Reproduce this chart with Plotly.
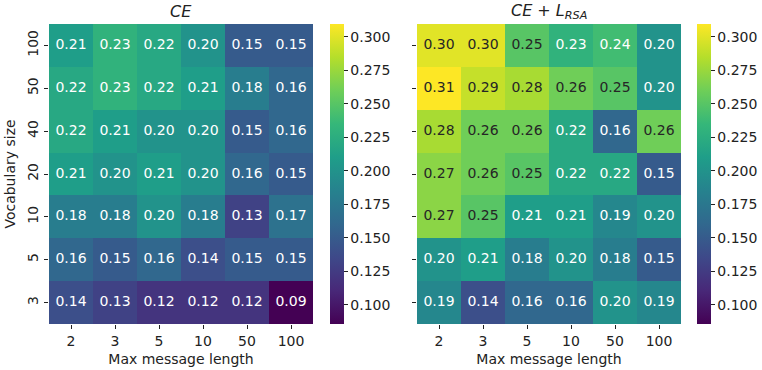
import plotly.graph_objects as go
from plotly.colors import sample_colorscale, unlabel_rgb

msg_len = ["2", "3", "5", "10", "50", "100"]
vocab = ["3", "5", "10", "20", "40", "50", "100"]  # bottom to top

# rows in vocab order (bottom -> top)
ce = [
    [0.14, 0.13, 0.12, 0.12, 0.12, 0.0858],
    [0.16, 0.15, 0.16, 0.14, 0.15, 0.15],
    [0.18, 0.18, 0.20, 0.18, 0.13, 0.17],
    [0.21, 0.20, 0.21, 0.20, 0.16, 0.15],
    [0.22, 0.21, 0.20, 0.20, 0.15, 0.16],
    [0.22, 0.23, 0.22, 0.21, 0.18, 0.16],
    [0.21, 0.23, 0.22, 0.20, 0.15, 0.15],
]
ce_rsa = [
    [0.19, 0.14, 0.16, 0.16, 0.20, 0.19],
    [0.20, 0.21, 0.18, 0.20, 0.18, 0.15],
    [0.27, 0.25, 0.21, 0.21, 0.19, 0.20],
    [0.27, 0.26, 0.25, 0.22, 0.22, 0.15],
    [0.28, 0.26, 0.26, 0.22, 0.16, 0.26],
    [0.3095, 0.29, 0.28, 0.26, 0.25, 0.20],
    [0.30, 0.30, 0.25, 0.23, 0.24, 0.20],
]
zmin, zmax = 0.0858, 0.3095

W, H = 762, 370
FONT = "DejaVu Sans"
FS = 14

def px_x(p):
    return p / W

def px_y(p):
    return 1 - p / H

def lum(v):
    t = (v - zmin) / (zmax - zmin)
    t = min(max(t, 0), 1)
    c = sample_colorscale("Viridis", [t])[0]
    r, g, b = [x / 255 for x in unlabel_rgb(c)]
    def f(u):
        return u / 12.92 if u <= 0.03928 else ((u + 0.055) / 1.055) ** 2.4
    return 0.2126 * f(r) + 0.7152 * f(g) + 0.0722 * f(b)

fig = go.Figure()

panels = [
    (ce, "x", "y", 49, 313, 330, "<i>CE</i>"),
    (ce_rsa, "x2", "y2", 417, 681, 697, "<i>CE</i> + <i>L</i><sub><i>RSA</i></sub>"),
]

for i, (data, xa, ya, x0, x1, cbx, title) in enumerate(panels):
    fig.add_trace(go.Heatmap(
        z=data, x=msg_len, y=vocab, xaxis=xa, yaxis=ya,
        colorscale="Viridis", zmin=zmin, zmax=zmax,
        xgap=0, ygap=0, hoverinfo="skip",
        colorbar=dict(
            x=px_x(cbx), xanchor="left", xref="paper",
            y=px_y(174), yanchor="middle",
            len=300 / H, lenmode="fraction",
            thickness=14, thicknessmode="pixels",
            outlinewidth=0,
            tick0=0.1, dtick=0.025, tickformat=".3f",
            ticks="outside", ticklen=4, tickwidth=1, tickcolor="#222",
            tickfont=dict(family=FONT, size=FS, color="#222"),
            xpad=0, ypad=0,
        ),
    ))
    xs, ys, txt, cols = [], [], [], []
    for r, row in enumerate(data):
        for c, v in enumerate(row):
            xs.append(msg_len[c])
            ys.append(vocab[r])
            txt.append(f"{v:.2f}")
            cols.append("#262626" if lum(v) > 0.408 else "white")
    fig.add_trace(go.Scatter(
        x=xs, y=ys, xaxis=xa, yaxis=ya, mode="text", text=txt,
        textfont=dict(family=FONT, size=FS, color=cols),
        hoverinfo="skip", showlegend=False,
    ))
    fig.add_annotation(
        x=px_x((x0 + x1) / 2), y=px_y(11), xref="paper", yref="paper",
        text=title, showarrow=False, xanchor="center", yanchor="middle",
        font=dict(family=FONT, size=16, color="#222"),
    )

axis_common = dict(
    type="category", showgrid=False, zeroline=False, showline=False,
    ticks="outside", ticklen=4, tickwidth=1, tickcolor="#222",
    tickfont=dict(family=FONT, size=FS, color="#222"),
)
tfont = dict(family=FONT, size=FS, color="#222")

fig.update_layout(
    width=W, height=H,
    margin=dict(l=0, r=0, t=0, b=0),
    paper_bgcolor="white", plot_bgcolor="white",
    showlegend=False,
    xaxis=dict(axis_common, domain=[px_x(49), px_x(313)], anchor="y",
               title=dict(text="Max message length", font=tfont, standoff=6)),
    yaxis=dict(axis_common, domain=[px_y(324), px_y(24)], anchor="x", tickangle=-90,
               title=dict(text="Vocabulary size", font=tfont, standoff=6)),
    xaxis2=dict(axis_common, domain=[px_x(417), px_x(681)], anchor="y2",
                title=dict(text="Max message length", font=tfont, standoff=6)),
    yaxis2=dict(axis_common, domain=[px_y(324), px_y(24)], anchor="x2", showticklabels=False),
)

fig.write_html("out.html")
